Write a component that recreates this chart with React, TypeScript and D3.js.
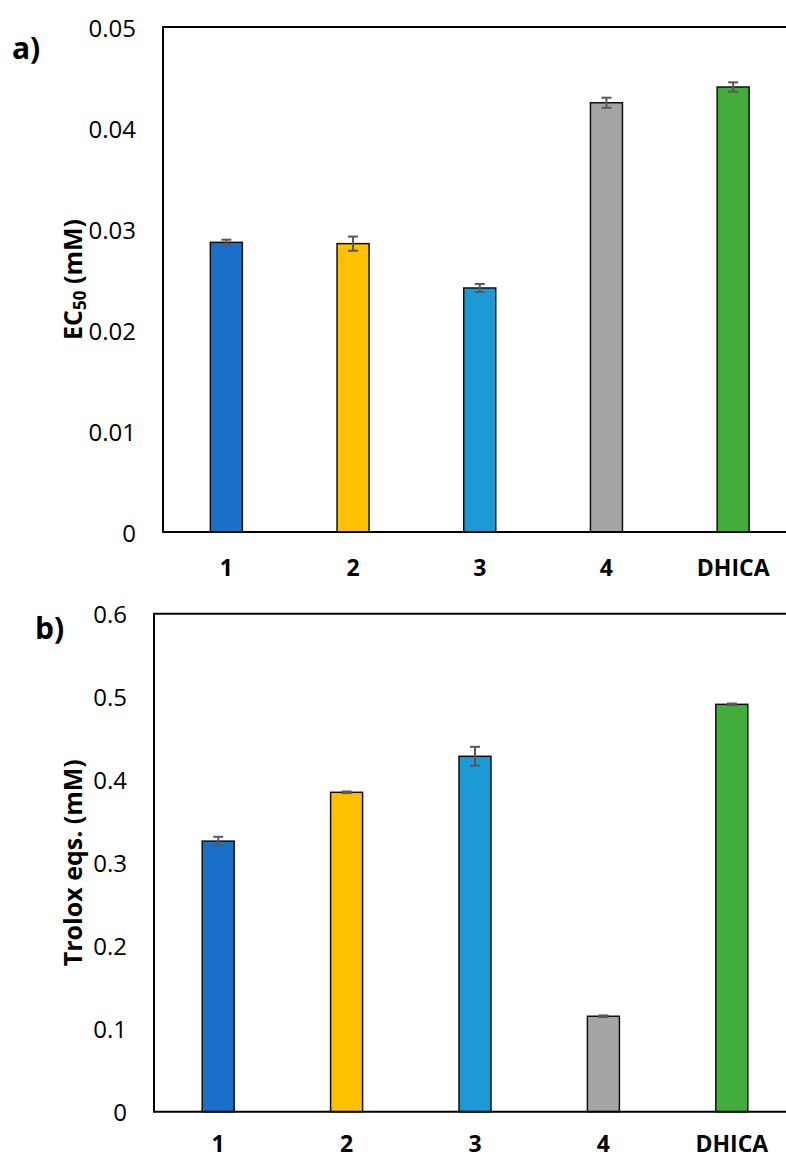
import React from "react";
import * as d3 from "d3";

const categories = ["1", "2", "3", "4", "DHICA"];
const colors = ["#1a70c8", "#ffc000", "#1c9ad6", "#a5a5a5", "#43ad3c"];

const ecValues = [0.02868, 0.02855, 0.02416, 0.0425, 0.04406];
const ecErrors = [0.00026, 0.0007, 0.0004, 0.0005, 0.00046];
const ecTicks = [0, 0.01, 0.02, 0.03, 0.04, 0.05];
const ecTickLabels = ["0", "0.01", "0.02", "0.03", "0.04", "0.05"];

const trValues = [0.326, 0.3848, 0.4282, 0.115, 0.4908];
const trErrors = [0.0052, 0.001, 0.0114, 0.001, 0.001];
const trTicks = [0, 0.1, 0.2, 0.3, 0.4, 0.5, 0.6];
const trTickLabels = ["0", "0.1", "0.2", "0.3", "0.4", "0.5", "0.6"];

const FONT = "'Open Sans', 'DejaVu Sans', sans-serif";

type PanelProps = {
  x0: number;
  x1: number;
  yTop: number;
  yBottom: number;
  max: number;
  values: number[];
  errors: number[];
  ticks: number[];
  tickLabels: string[];
  letter: string;
  letterX: number;
  letterY: number;
  title: React.ReactNode;
  titleX: number;
  catY: number;
};

function Panel(p: PanelProps) {
  const x = d3.scaleBand<string>().domain(categories).range([p.x0, p.x1]).padding(0);
  const y = d3.scaleLinear().domain([0, p.max]).range([p.yBottom, p.yTop]);
  const bw = 32;
  const capW = 10;
  return (
    <g>
      <text x={p.letterX} y={p.letterY} fontFamily={FONT} fontWeight="bold" fontSize={30} dominantBaseline="central">
        {p.letter}
      </text>
      {p.ticks.map((t, i) => (
        <text
          key={i}
          x={p.x0 - 27}
          y={y(t)}
          textAnchor="end"
          dominantBaseline="central"
          fontFamily={FONT}
          fontSize={24}
          fill="#000"
        >
          {p.tickLabels[i]}
        </text>
      ))}
      <text
        transform={`translate(${p.titleX},${(p.yTop + p.yBottom) / 2}) rotate(-90)`}
        textAnchor="middle"
        dominantBaseline="central"
        fontFamily={FONT}
        fontWeight="bold"
        fontSize={25}
      >
        {p.title}
      </text>
      {categories.map((c, i) => {
        const cx = (x(c) as number) + x.bandwidth() / 2;
        const top = y(p.values[i]);
        const eTop = y(p.values[i] + p.errors[i]);
        const eBot = y(p.values[i] - p.errors[i]);
        return (
          <g key={c}>
            <rect
              x={cx - bw / 2}
              y={top}
              width={bw}
              height={p.yBottom - top}
              fill={colors[i]}
              stroke="#111"
              strokeWidth={1.5}
            />
            <line x1={cx} x2={cx} y1={eTop} y2={eBot} stroke="#595959" strokeWidth={2} />
            <line x1={cx - capW / 2} x2={cx + capW / 2} y1={eTop} y2={eTop} stroke="#595959" strokeWidth={2} />
            <line x1={cx - capW / 2} x2={cx + capW / 2} y1={eBot} y2={eBot} stroke="#595959" strokeWidth={2} />
            <text
              x={cx}
              y={p.catY}
              textAnchor="middle"
              dominantBaseline="central"
              fontFamily={FONT}
              fontWeight="bold"
              fontSize={23}
            >
              {c}
            </text>
          </g>
        );
      })}
      <path
        d={`M${p.x1},${p.yTop} H${p.x0} V${p.yBottom} H${p.x1}`}
        fill="none"
        stroke="#000"
        strokeWidth={2}
      />
    </g>
  );
}

export default function App() {
  return (
    <svg
      width={786}
      height={1158}
      style={{ position: "absolute", left: 0, top: 0, background: "#fff" }}
    >
      <rect width={786} height={1158} fill="#fff" />
      <Panel
        x0={163}
        x1={796.5}
        yTop={27}
        yBottom={532}
        max={0.05}
        values={ecValues}
        errors={ecErrors}
        ticks={ecTicks}
        tickLabels={ecTickLabels}
        letter="a)"
        letterX={12}
        letterY={47}
        title={
          <>
            <tspan>EC</tspan>
            <tspan fontSize={17} dy={7}>50</tspan>
            <tspan dy={-7}> (mM)</tspan>
          </>
        }
        titleX={72}
        catY={567}
      />
      <Panel
        x0={154}
        x1={796}
        yTop={613.7}
        yBottom={1111.7}
        max={0.6}
        values={trValues}
        errors={trErrors}
        ticks={trTicks}
        tickLabels={trTickLabels}
        letter="b)"
        letterX={35}
        letterY={627}
        title="Trolox eqs. (mM)"
        titleX={72}
        catY={1143}
      />
    </svg>
  );
}
